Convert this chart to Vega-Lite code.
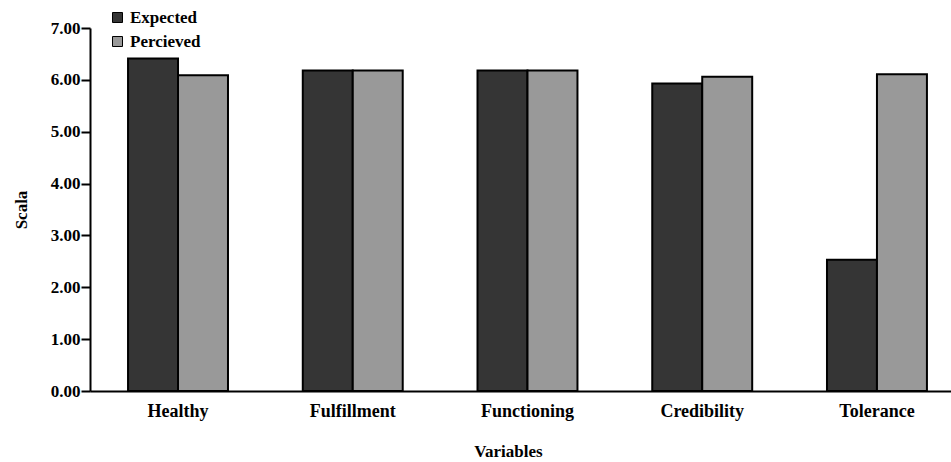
{
  "$schema": "https://vega.github.io/schema/vega-lite/v6.json",
  "width": 861,
  "height": 363,
  "autosize": {"type": "none"},
  "padding": {"left": 90, "top": 28, "right": 0, "bottom": 71},
  "background": "white",
  "config": {
    "view": {"stroke": null},
    "font": "Liberation Serif",
    "axis": {"grid": false, "domainColor": "black", "domainWidth": 2, "tickColor": "black", "tickWidth": 2, "labelColor": "black", "titleColor": "black", "labelFont": "Liberation Serif", "titleFont": "Liberation Serif", "titleFontWeight": "bold", "labelFontWeight": "bold"}
  },
  "data": {
    "values": [
      {"variable": "Healthy", "series": "Expected", "value": 6.41},
      {"variable": "Healthy", "series": "Percieved", "value": 6.09},
      {"variable": "Fulfillment", "series": "Expected", "value": 6.18},
      {"variable": "Fulfillment", "series": "Percieved", "value": 6.18},
      {"variable": "Functioning", "series": "Expected", "value": 6.18},
      {"variable": "Functioning", "series": "Percieved", "value": 6.18},
      {"variable": "Credibility", "series": "Expected", "value": 5.93},
      {"variable": "Credibility", "series": "Percieved", "value": 6.06},
      {"variable": "Tolerance", "series": "Expected", "value": 2.53},
      {"variable": "Tolerance", "series": "Percieved", "value": 6.11}
    ]
  },
  "mark": {"type": "bar", "stroke": "black", "strokeWidth": 2},
  "encoding": {
    "x": {
      "field": "variable",
      "type": "nominal",
      "sort": ["Healthy", "Fulfillment", "Functioning", "Credibility", "Tolerance"],
      "scale": {"paddingInner": 0.428, "paddingOuter": 0.1777, "align": 0.6125},
      "axis": {"title": "Variables", "titleX": 418, "labelAngle": 0, "ticks": false, "labelPadding": 11, "labelFontSize": 18, "titleFontSize": 17, "titlePadding": 23}
    },
    "xOffset": {
      "field": "series",
      "type": "nominal",
      "sort": ["Expected", "Percieved"],
      "scale": {"paddingInner": 0, "paddingOuter": 0}
    },
    "y": {
      "field": "value",
      "type": "quantitative",
      "scale": {"domain": [0, 7], "nice": false},
      "axis": {"title": "Scala", "format": ".2f", "values": [0, 1, 2, 3, 4, 5, 6, 7], "tickSize": 9, "labelPadding": 1, "labelFontSize": 17, "titleFontSize": 17, "titlePadding": 20}
    },
    "color": {
      "field": "series",
      "type": "nominal",
      "sort": ["Expected", "Percieved"],
      "scale": {"range": ["#353535", "#999999"]},
      "legend": {
        "title": null,
        "orient": "none",
        "legendX": 19,
        "legendY": -19,
        "padding": 0,
        "symbolType": "square",
        "symbolSize": 100,
        "symbolStrokeColor": "black",
        "symbolStrokeWidth": 1,
        "labelFont": "Liberation Serif",
        "labelFontWeight": "bold",
        "labelFontSize": 17,
        "labelColor": "black",
        "labelOffset": 4,
        "rowPadding": 6
      }
    }
  }
}
